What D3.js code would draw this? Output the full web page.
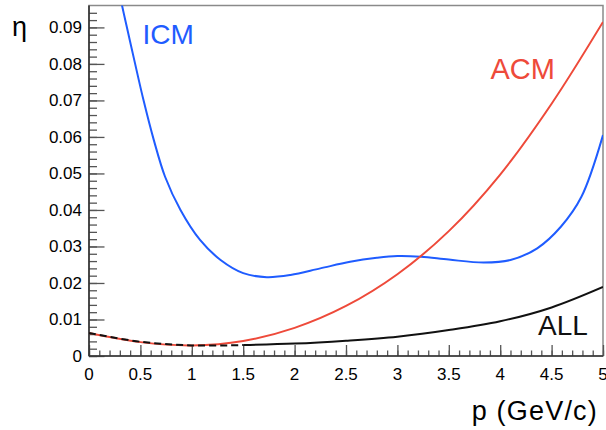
<!DOCTYPE html>
<html>
<head>
<meta charset="utf-8">
<script src="https://cdn.jsdelivr.net/npm/d3@7"></script>
<style>
  body { margin: 0; background: #fff; }
  text { font-family: "Liberation Sans", Arial, sans-serif; }
</style>
</head>
<body>
<div id="chart"></div>
<script>
'use strict';

// values
var icmP   = [0.25, 0.32, 0.38, 0.44, 0.53, 0.63, 0.74, 0.89, 1.08, 1.28, 1.5, 1.73, 1.96, 2.25, 2.54, 2.8, 3.0, 3.23, 3.5, 3.84, 4.1, 4.36, 4.59, 4.79, 5.0];
var icmEta = [0.106, 0.0962, 0.0886, 0.0811, 0.0701, 0.0592, 0.0491, 0.0400, 0.0318, 0.0263, 0.0227, 0.0216, 0.0222, 0.0240, 0.0258, 0.0269, 0.0274, 0.0272, 0.0264, 0.0256, 0.0263, 0.0295, 0.0354, 0.0436, 0.0605];

var acmP   = [0, 0.5, 1.0, 1.5, 2.0, 2.5, 3.0, 3.5, 4.0, 4.5, 5.0];
var acmEta = [0.0063, 0.0038, 0.0029, 0.0041, 0.0077, 0.0137, 0.0224, 0.0342, 0.0497, 0.0691, 0.0915];

var allP   = [0, 0.5, 1.0, 1.5, 2.0, 2.5, 3.0, 3.5, 4.0, 4.5, 5.0];
var allEta = [0.0063, 0.0039, 0.0029, 0.0030, 0.0034, 0.0042, 0.0053, 0.0071, 0.0095, 0.0133, 0.0189];

var xTicks = [0, 0.5, 1, 1.5, 2, 2.5, 3, 3.5, 4, 4.5, 5];
var yTicks = [0, 0.01, 0.02, 0.03, 0.04, 0.05, 0.06, 0.07, 0.08, 0.09];

var width = 606, height = 430;
var padL = 89, padR = 603, padT = 5.5, padB = 356;

var svg = d3.select('#chart')
            .append('svg')
            .attr('width', width)
            .attr('height', height);

var x = d3.scaleLinear().domain([0, 5]).range([padL, padR]);
var y = d3.scaleLinear().domain([0, 0.096]).range([padB, padT]);

// frame
svg.append('rect')
   .attr('x', padL).attr('y', padT)
   .attr('width', padR - padL).attr('height', padB - padT)
   .attr('fill', 'none')
   .attr('stroke', '#8a8a8a')
   .attr('stroke-width', 1.5);

svg.append('clipPath').attr('id', 'plot')
   .append('rect')
   .attr('x', padL).attr('y', padT)
   .attr('width', padR - padL).attr('height', padB - padT);

// x axis, ticks pointing into the plot
var xMinor = d3.range(0, 51).map(function(i) { return i / 10; });
svg.append('g')
   .attr('transform', 'translate(0,' + padB + ')')
   .call(d3.axisTop(x).tickValues(xMinor).tickSize(5.5).tickFormat(''))
   .call(function(g) { g.select('.domain').remove(); });
svg.append('g')
   .attr('transform', 'translate(0,' + padB + ')')
   .call(d3.axisTop(x).tickValues(xTicks).tickSize(11).tickFormat(''))
   .call(function(g) { g.select('.domain').remove(); });

svg.selectAll('.xlab')
   .data(xTicks)
   .enter().append('text')
   .attr('x', function(d) { return x(d); })
   .attr('y', 380)
   .attr('text-anchor', 'middle')
   .attr('font-size', 17)
   .text(function(d) { return d; });

// y axis
var yMinor = d3.range(0, 48).map(function(i) { return i * 0.002; });
svg.append('g')
   .attr('transform', 'translate(' + padL + ',0)')
   .call(d3.axisRight(y).tickValues(yMinor).tickSize(8).tickFormat(''))
   .call(function(g) { g.select('.domain').remove(); });
svg.append('g')
   .attr('transform', 'translate(' + padL + ',0)')
   .call(d3.axisRight(y).tickValues(yTicks).tickSize(15.5).tickFormat(''))
   .call(function(g) { g.select('.domain').remove(); });

svg.selectAll('.tick line').attr('stroke', '#555').attr('stroke-width', 1.3);

svg.selectAll('.ylab')
   .data(yTicks)
   .enter().append('text')
   .attr('x', 82)
   .attr('y', function(d) { return y(d) + 6; })
   .attr('text-anchor', 'end')
   .attr('font-size', 17)
   .text(function(d) { return d === 0 ? '0' : d3.format('.2f')(d); });

// axis lines
svg.append('line')
   .attr('x1', padL).attr('x2', padL)
   .attr('y1', padT).attr('y2', padB)
   .attr('stroke', '#333').attr('stroke-width', 1.6);
svg.append('line')
   .attr('x1', padL).attr('x2', padR)
   .attr('y1', padB).attr('y2', padB)
   .attr('stroke', '#333').attr('stroke-width', 1.6);

// curves
var line = d3.line()
             .x(function(d) { return x(d[0]); })
             .y(function(d) { return y(d[1]); })
             .curve(d3.curveCatmullRom.alpha(0.5));

var zip = function(a, b) { return a.map(function(v, i) { return [v, b[i]]; }); };

var plot = svg.append('g').attr('clip-path', 'url(#plot)');

plot.append('path')
    .attr('d', line(zip(icmP, icmEta)))
    .attr('fill', 'none')
    .attr('stroke', '#1f5cff')
    .attr('stroke-width', 2);

plot.append('path')
    .attr('d', line(zip(acmP, acmEta)))
    .attr('fill', 'none')
    .attr('stroke', '#ee4a3a')
    .attr('stroke-width', 2);

var allPts = zip(allP, allEta);
plot.append('path')
    .attr('d', line(allPts.filter(function(d) { return d[0] <= 1.5; })))
    .attr('fill', 'none')
    .attr('stroke', '#111')
    .attr('stroke-width', 2)
    .attr('stroke-dasharray', '7,4');
plot.append('path')
    .attr('d', line(allPts.filter(function(d) { return d[0] >= 1.5; })))
    .attr('fill', 'none')
    .attr('stroke', '#111')
    .attr('stroke-width', 2);

// labels
svg.append('text').attr('x', 142.5).attr('y', 43.5)
   .attr('font-size', 28).attr('fill', '#1f5cff').text('ICM');
svg.append('text').attr('x', 490.5).attr('y', 79)
   .attr('font-size', 29).attr('fill', '#ee4a3a').text('ACM');
svg.append('text').attr('x', 538).attr('y', 335)
   .attr('font-size', 28).attr('fill', '#111').text('ALL');

svg.append('text').attr('x', 12).attr('y', 36)
   .attr('font-size', 27).text('η');
svg.append('text').attr('x', 598).attr('y', 420)
   .attr('text-anchor', 'end')
   .attr('font-size', 27)
   .attr('letter-spacing', 1.2)
   .text('p (GeV/c)');
</script>
</body>
</html>
